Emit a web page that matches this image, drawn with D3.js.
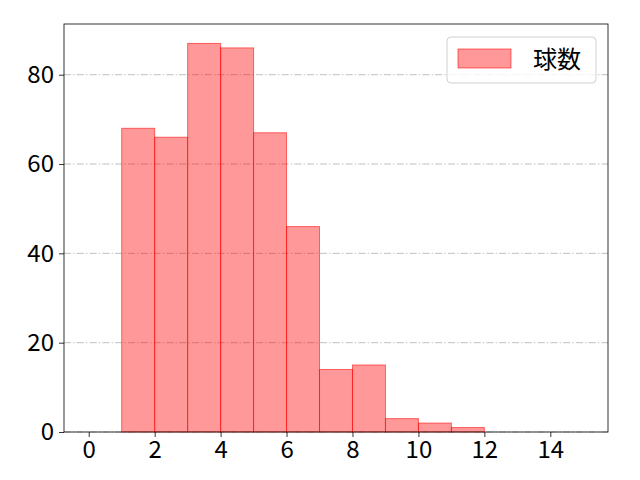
<!DOCTYPE html>
<html>
<head>
<meta charset="utf-8">
<script src="https://cdn.jsdelivr.net/npm/d3@7"></script>
<style>
  body { margin: 0; background: #fff; }
  svg text { font-family: "Noto Sans CJK JP", "Noto Sans", sans-serif; fill: #000; }
</style>
</head>
<body>
<div id="chart"></div>
<script>
// histogram bins (left edges), counts per bin
const binStarts = [0, 1, 2, 3, 4, 5, 6, 7, 8, 9, 10, 11, 12, 13, 14];
const counts = [0, 68, 66, 87, 86, 67, 46, 14, 15, 3, 2, 1, 0, 0, 0];
const binWidth = 1;
const xTicks = [0, 2, 4, 6, 8, 10, 12, 14];
const yTicks = [0, 20, 40, 60, 80];
const seriesName = '球数';

const width = 640;
const height = 480;
const margin = { top: 24, right: 32, bottom: 48, left: 64 };

const svg = d3.select('#chart')
  .append('svg')
  .attr('width', width)
  .attr('height', height);

const xMin = d3.min(binStarts);
const xMax = d3.max(binStarts) + binWidth;
const xPad = (xMax - xMin) * 0.05;
const yMax = d3.max(counts) * 1.05;

const xScale = d3.scaleLinear()
  .domain([xMin - xPad, xMax + xPad])
  .range([margin.left, width - margin.right]);

const yScale = d3.scaleLinear()
  .domain([0, yMax])
  .range([height - margin.bottom, margin.top]);

// horizontal grid, dash-dot
svg.append('g')
  .selectAll('line')
  .data(yTicks)
  .join('line')
  .attr('x1', margin.left)
  .attr('x2', width - margin.right)
  .attr('y1', d => yScale(d))
  .attr('y2', d => yScale(d))
  .attr('stroke', '#b0b0b0')
  .attr('stroke-width', 0.8)
  .attr('stroke-dasharray', '7,2.2,1.4,2.2');

// bars
svg.append('g')
  .selectAll('rect')
  .data(binStarts)
  .join('rect')
  .attr('x', d => xScale(d))
  .attr('width', d => xScale(d + binWidth) - xScale(d))
  .attr('y', (d, i) => yScale(counts[i]))
  .attr('height', (d, i) => yScale(0) - yScale(counts[i]))
  .attr('fill', 'red')
  .attr('fill-opacity', 0.4)
  .attr('stroke', 'red')
  .attr('stroke-opacity', 0.55)
  .attr('stroke-width', 1);

// axes
const xAxis = d3.axisBottom(xScale)
  .tickValues(xTicks)
  .tickSize(5)
  .tickPadding(4)
  .tickSizeOuter(0);

const yAxis = d3.axisLeft(yScale)
  .tickValues(yTicks)
  .tickSize(5)
  .tickPadding(5)
  .tickSizeOuter(0);

const gx = svg.append('g')
  .attr('transform', `translate(0, ${height - margin.bottom})`)
  .call(xAxis);

const gy = svg.append('g')
  .attr('transform', `translate(${margin.left}, 0)`)
  .call(yAxis);

[gx, gy].forEach(g => {
  g.select('.domain').remove();
  g.selectAll('line').attr('stroke', '#000').attr('stroke-width', 0.8);
  g.selectAll('text').style('font-size', '24px');
});

// frame
svg.append('rect')
  .attr('x', margin.left)
  .attr('y', margin.top)
  .attr('width', width - margin.left - margin.right)
  .attr('height', height - margin.top - margin.bottom)
  .attr('fill', 'none')
  .attr('stroke', '#000')
  .attr('stroke-width', 0.8);

// legend
const legend = svg.append('g')
  .attr('transform', 'translate(447, 37)');

legend.append('rect')
  .attr('width', 149)
  .attr('height', 46)
  .attr('rx', 4)
  .attr('fill', '#fff')
  .attr('fill-opacity', 0.8)
  .attr('stroke', '#d0d0d0')
  .attr('stroke-width', 1);

legend.append('rect')
  .attr('x', 11)
  .attr('y', 12)
  .attr('width', 53)
  .attr('height', 19)
  .attr('fill', 'red')
  .attr('fill-opacity', 0.4)
  .attr('stroke', 'red')
  .attr('stroke-opacity', 0.55);

legend.append('text')
  .attr('x', 86)
  .attr('y', 23)
  .attr('dy', '0.35em')
  .style('font-size', '24px')
  .text(seriesName);
</script>
</body>
</html>
